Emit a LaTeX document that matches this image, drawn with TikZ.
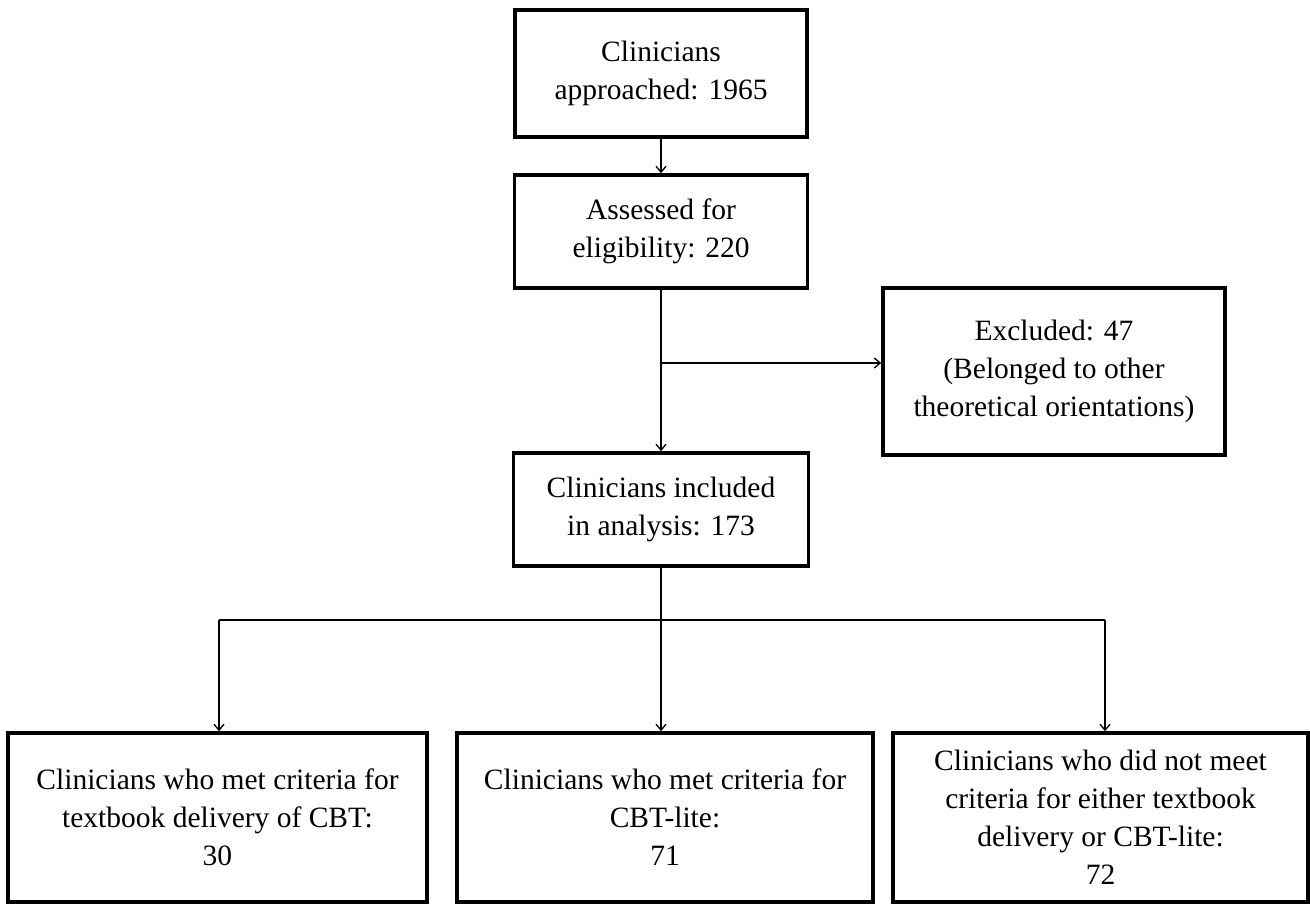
\documentclass[tikz,border=0pt]{standalone}
\usepackage{fontspec}
\setmainfont{Liberation Serif}
\usetikzlibrary{arrows.meta}
\begin{document}
\begin{tikzpicture}[x=1pt,y=-1pt,
  box/.style={draw,line width=3.5pt,align=center,inner sep=0pt,
    font=\fontsize{29.5}{38}\selectfont},
  conn/.style={line width=1.3pt},
  arr/.style={conn,-{Straight Barb[length=6pt,width=10pt]}}]
\useasboundingbox[fill=white] (0,0) rectangle (1310,904);
\node[box,minimum width=292pt,minimum height=127pt] (b1) at (661,73.5) {Clinicians\\approached: 1965};
\node[box,minimum width=293pt,minimum height=113pt] (b2) at (661,231.5) {Assessed for\\eligibility: 220};
\node[box,minimum width=342pt,minimum height=167pt] (ex) at (1054,371.5) {Excluded: 47\\(Belonged to other\\theoretical orientations)};
\node[box,minimum width=295pt,minimum height=113pt] (b3) at (661,509.5) {Clinicians included\\in analysis: 173};
\node[box,minimum width=419pt,minimum height=169pt] (L) at (217.5,817.5) {Clinicians who met criteria for\\textbook delivery of CBT:\\30};
\node[box,minimum width=416pt,minimum height=169pt] (M) at (665,817.5) {Clinicians who met criteria for\\CBT-lite:\\71};
\node[box,minimum width=415pt,minimum height=169pt] (R) at (1100.5,817.5) {Clinicians who did not meet\\criteria for either textbook\\delivery or CBT-lite:\\72};
\coordinate (j1) at (661,363);
\coordinate (j2) at (661,620);
\coordinate (hl) at (219,620);
\coordinate (hr) at (1105,620);
\draw[arr] (b1.south) -- (b2.north);
\draw[arr] (b2.south) -- (b3.north);
\draw[arr] (j1) -- (j1 -| ex.west);
\draw[conn] (b3.south) -- (j2);
\draw[conn] (hl) -- (hr);
\draw[arr] (hl) -- (hl |- L.north);
\draw[arr] (j2) -- (j2 |- M.north);
\draw[arr] (hr) -- (hr |- R.north);
\end{tikzpicture}
\end{document}
